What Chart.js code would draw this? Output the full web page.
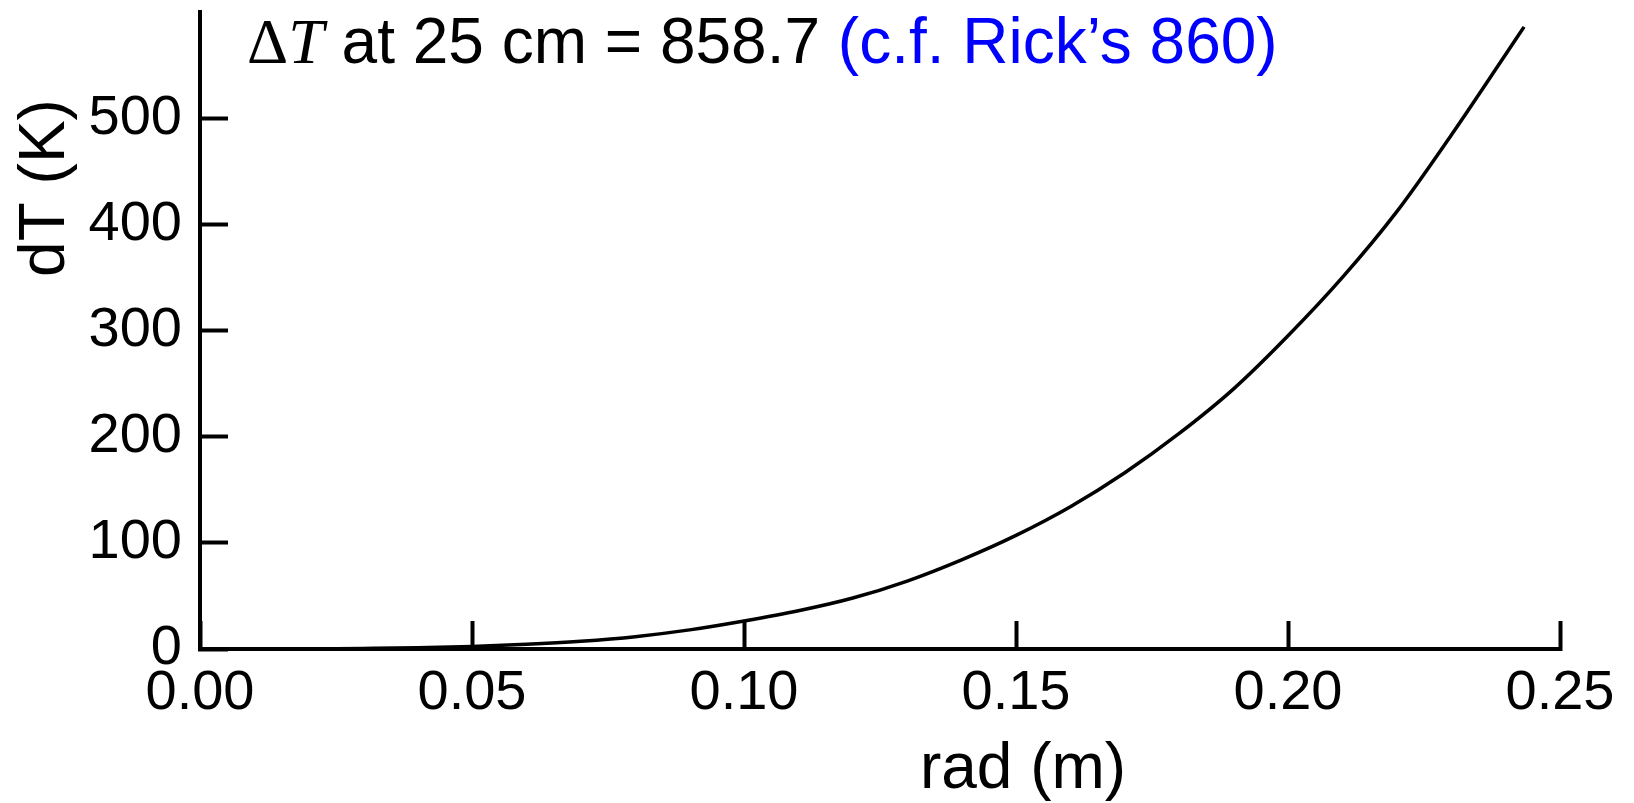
<!DOCTYPE html>
<html>
<head>
<meta charset="utf-8">
<title>dT vs rad</title>
<script src="https://cdn.jsdelivr.net/npm/chart.js@4.4.1/dist/chart.umd.min.js"></script>
<style>
  html, body { margin: 0; padding: 0; background: #fff; }
  #wrap { width: 1634px; height: 803px; }
</style>
</head>
<body>
<div id="wrap"><canvas id="chart" width="1634" height="803"></canvas></div>
<script>
// radius (m) and temperature rise (K)
const radius = [0, 0.01, 0.02, 0.03, 0.04, 0.05, 0.06, 0.07, 0.08, 0.09, 0.10, 0.11, 0.12,
                0.13, 0.14, 0.15, 0.16, 0.17, 0.18, 0.19, 0.20, 0.21, 0.22, 0.23, 0.24, 0.2434];
const deltaT = [0, 0.02, 0.1, 0.5, 1.1, 2.4, 4.4, 7.3, 11.6, 18, 26.4, 36, 48,
                64, 84, 107, 134, 166, 203, 245, 295, 350, 412, 484, 560, 586];

// axis ticks
const xTicks = [0, 0.05, 0.10, 0.15, 0.20, 0.25];
const yTicks = [0, 100, 200, 300, 400, 500];

// labels
const xLabel = 'rad (m)';
const yLabel = 'dT (K)';
const noteParts = [
  { text: '\u0394', font: '64px "Liberation Serif", serif', color: '#000' },
  { text: 'T', font: 'italic 64px "Liberation Serif", serif', color: '#000' },
  { text: ' at 25 cm = 858.7 ', font: null, color: '#000' },
  { text: '(c.f. Rick\u2019s 860)', font: null, color: '#0000ff' }
];

const sansFamily = '"Liberation Sans", Arial, sans-serif';
const labelFont = '64px ' + sansFamily;
const tickSize = 56;

// draws the note at the top and both axis titles
const textPlugin = {
  id: 'textPlugin',
  afterDraw(chart) {
    const ctx = chart.ctx;
    const area = chart.chartArea;
    ctx.save();
    ctx.textBaseline = 'alphabetic';
    ctx.textAlign = 'left';

    // note inside the plot, top left
    let x = area.left + 47;
    const y = 63;
    noteParts.forEach(p => {
      ctx.font = p.font || labelFont;
      ctx.fillStyle = p.color;
      ctx.fillText(p.text, x, y);
      x += ctx.measureText(p.text).width;
    });

    // x axis title
    ctx.font = labelFont;
    ctx.fillStyle = '#000';
    ctx.textAlign = 'center';
    ctx.fillText(xLabel, area.left + 823, 788);

    // y axis title, rotated
    ctx.translate(64, 188);
    ctx.rotate(-Math.PI / 2);
    ctx.fillText(yLabel, 0, 0);
    ctx.restore();
  }
};

function noPadding(scale) {
  scale.paddingLeft = 0;
  scale.paddingRight = 0;
  scale.paddingTop = 0;
  scale.paddingBottom = 0;
}

const points = radius.map((r, i) => ({ x: r, y: deltaT[i] }));

const ctx = document.getElementById('chart').getContext('2d');
const chart = new Chart(ctx, {
  type: 'line',
  data: {
    datasets: [{
      data: points,
      borderColor: '#000',
      borderWidth: 3.5,
      pointRadius: 0,
      fill: false,
      cubicInterpolationMode: 'monotone'
    }]
  },
  options: {
    responsive: false,
    animation: false,
    layout: { padding: { top: 12, right: 74, left: 0, bottom: 0 } },
    plugins: {
      legend: { display: false },
      tooltip: { enabled: false },
      title: { display: false }
    },
    scales: {
      x: {
        type: 'linear',
        min: 0,
        max: 0.25,
        afterBuildTicks: scale => { scale.ticks = xTicks.map(v => ({ value: v })); },
        afterFit: scale => { scale.height = 154; noPadding(scale); },
        ticks: {
          callback: v => Number(v).toFixed(2),
          color: '#000',
          font: { family: sansFamily, size: tickSize },
          padding: 39,
          maxRotation: 0,
          autoSkip: false
        },
        grid: {
          drawOnChartArea: false,
          drawTicks: true,
          tickLength: -28,
          tickWidth: 4,
          tickColor: '#000'
        },
        border: { display: true, color: '#000', width: 4 }
      },
      y: {
        type: 'linear',
        min: 0,
        max: 600,
        afterBuildTicks: scale => { scale.ticks = yTicks.map(v => ({ value: v })); },
        afterFit: scale => { scale.width = 200; noPadding(scale); },
        ticks: {
          color: '#000',
          font: { family: sansFamily, size: tickSize },
          padding: 46,
          autoSkip: false
        },
        grid: {
          drawOnChartArea: false,
          drawTicks: true,
          tickLength: -28,
          tickWidth: 4,
          tickColor: '#000'
        },
        border: { display: true, color: '#000', width: 4 }
      }
    }
  },
  plugins: [textPlugin]
});
</script>
</body>
</html>
